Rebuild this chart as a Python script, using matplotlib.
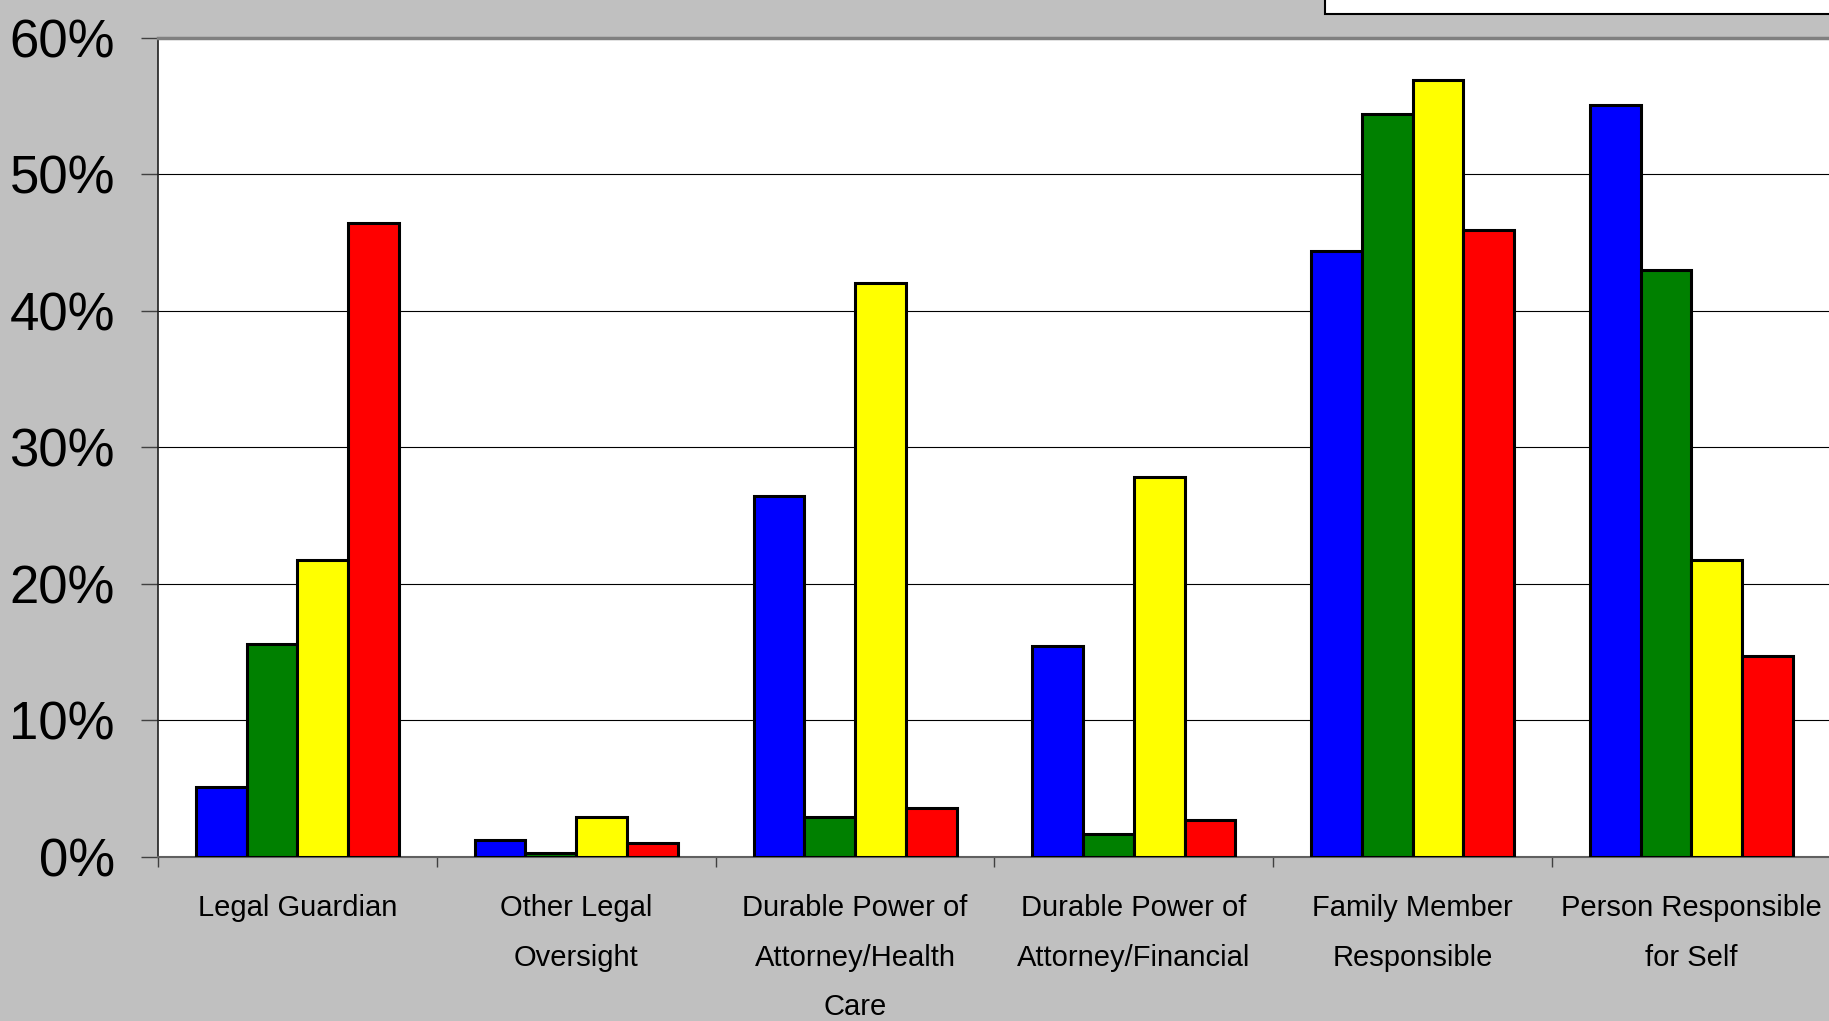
import matplotlib
matplotlib.use("Agg")
import matplotlib.pyplot as plt
from matplotlib.patches import Rectangle
import numpy as np

plt.rcParams['font.family'] = ['Liberation Sans', 'DejaVu Sans']

# categories and the four series (percent)
categories = ['Legal Guardian', 'Other Legal\nOversight', 'Durable Power of\nAttorney/Health\nCare',
              'Durable Power of\nAttorney/Financial', 'Family Member\nResponsible', 'Person Responsible\nfor Self']
series_blue = [5.1, 1.2, 26.4, 15.4, 44.4, 55.1]
series_green = [15.6, 0.3, 2.9, 1.7, 54.4, 43.0]
series_yellow = [21.7, 2.9, 42.0, 27.8, 56.9, 21.7]
series_red = [46.4, 1.0, 3.6, 2.7, 45.9, 14.7]
y_ticks = [0, 10, 20, 30, 40, 50, 60]

series = [series_blue, series_green, series_yellow, series_red]
colors = ['#0000FF', '#008000', '#FFFF00', '#FF0000']

fig = plt.figure(figsize=(18.29, 10.21), dpi=100, facecolor='#C0C0C0')
ax = fig.add_axes([0.0864, 0.1609, 0.9146, 0.8022])
ax.set_facecolor('white')

x = np.arange(len(categories))
w = 0.182
for i, (vals, c) in enumerate(zip(series, colors)):
    ax.bar(x + (i - 1.5) * w, vals, width=w, color=c, edgecolor='black', linewidth=2.2, zorder=3)

ax.set_xlim(-0.5, len(categories) - 0.5)
ax.set_ylim(0, 60)
ax.set_yticks(y_ticks)
ax.set_yticklabels([f'{t}%' for t in y_ticks], fontsize=38)
ax.yaxis.grid(True, color='black', linewidth=0.8, zorder=0)

ax.set_xticks(x)
ax.set_xticklabels(categories, fontsize=21, linespacing=1.97, va='top')
ax.set_xticks(np.arange(len(categories) + 1) - 0.5, minor=True)
ax.tick_params(axis='x', which='major', length=0, pad=27)
ax.tick_params(axis='x', which='minor', length=7, width=1, color='#404040')
ax.tick_params(axis='y', length=12, width=1, pad=19, color='#404040')

ax.spines['top'].set_color('#808080')
ax.spines['top'].set_linewidth(2.5)
ax.spines['right'].set_visible(False)
ax.spines['left'].set_color('#202020')
ax.spines['left'].set_linewidth(1.2)
ax.spines['bottom'].set_color('#606060')
ax.spines['bottom'].set_linewidth(1.5)

# legend box, cut off at the top edge
fig.patches.append(Rectangle((1325 / 1829, 1 - 14 / 1021), 0.3, 0.05, transform=fig.transFigure,
                             facecolor='white', edgecolor='black', linewidth=1.5))

fig.savefig('out.png', dpi=100, facecolor=fig.get_facecolor())
